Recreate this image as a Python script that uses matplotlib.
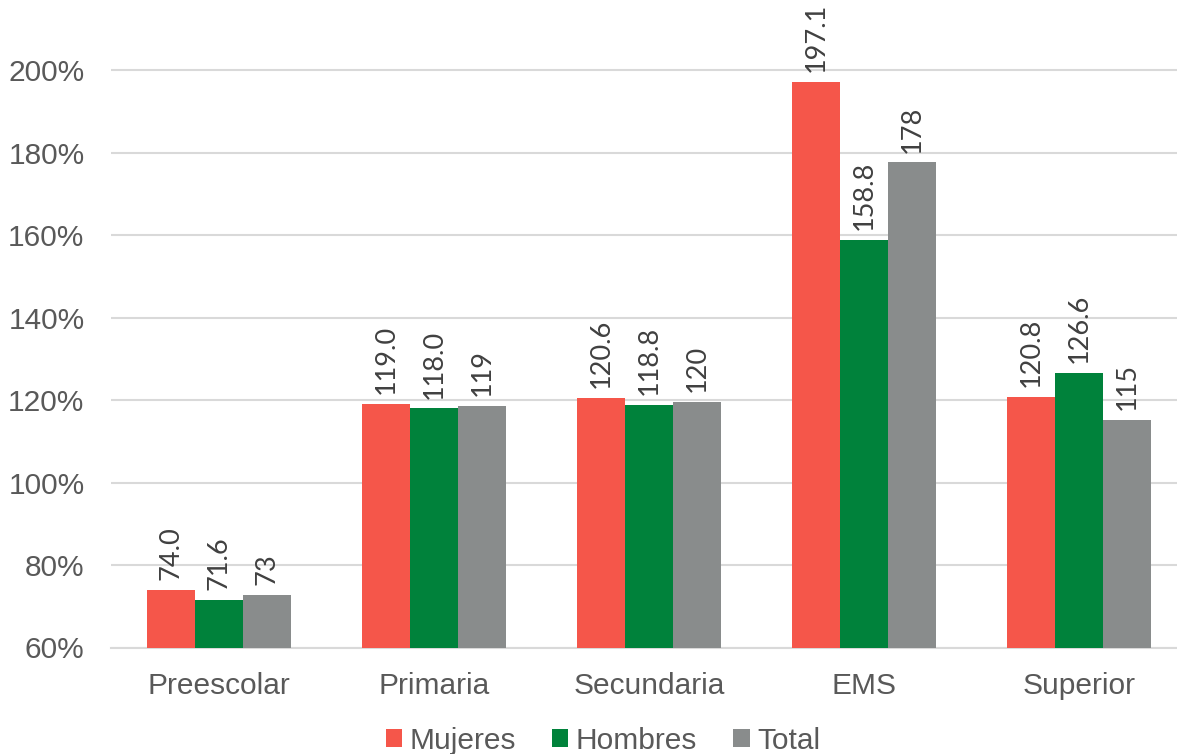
import matplotlib.pyplot as plt
import numpy as np

# ==================================
# 数据
# ==================================
niveles = ["Preescolar", "Primaria", "Secundaria", "EMS", "Superior"]

mujeres = [74.0, 119.0, 120.6, 197.1, 120.8]
hombres = [71.6, 118.0, 118.8, 158.8, 126.6]
total = [72.8, 118.6, 119.6, 177.6, 115.2]

series = ["Mujeres", "Hombres", "Total"]
colores = ["#F5564A", "#00823B", "#898C8C"]
formatos = ["{:.1f}", "{:.1f}", "{:.0f}"]

yticks = [60, 80, 100, 120, 140, 160, 180, 200]

# ==================================
# 图
# ==================================
fig = plt.figure(figsize=(11.77, 7.54), dpi=100)
ax = fig.add_axes([111 / 1177, 1 - 647.5 / 754, 1 - 111 / 1177, 647.5 / 754])

x = np.arange(len(niveles))
ancho = 0.223

for i, (nombre, valores) in enumerate(zip(series, [mujeres, hombres, total])):
    pos = x + (i - 1) * ancho
    ax.bar(pos, np.array(valores) - 60, bottom=60, width=ancho,
           color=colores[i], label=nombre, zorder=3)
    for px, v in zip(pos, valores):
        ax.annotate(formatos[i].format(v), (px, v),
                    xytext=(0, 7), textcoords="offset points",
                    rotation=90, ha="center", va="bottom",
                    fontsize=19.5, color="#404040", family="Lato")

ax.set_xlim(-0.502, 4.456)
ax.set_ylim(60, 217)
ax.set_yticks(yticks)
ax.set_yticklabels([f"{t}%" for t in yticks])
ax.set_xticks(x)
ax.set_xticklabels(niveles)

ax.grid(axis="y", color="#D9D9D9", linewidth=1.5, zorder=0)
for lado in ["top", "right", "left"]:
    ax.spines[lado].set_visible(False)
ax.spines["bottom"].set_color("#D9D9D9")
ax.spines["bottom"].set_linewidth(1.5)

ax.tick_params(axis="both", length=0, labelsize=21.5, labelcolor="#595959")
ax.tick_params(axis="x", pad=18)
ax.tick_params(axis="y", pad=19)
for t in ax.get_xticklabels() + ax.get_yticklabels():
    t.set_family("Liberation Sans")

fig.legend(loc="center", bbox_to_anchor=(603 / 1177, 1 - 741 / 754),
           ncol=3, frameon=False, handlelength=0.55, handleheight=0.55,
           handletextpad=0.25, columnspacing=1.2,
           prop={"family": "Liberation Sans", "size": 21.5},
           labelcolor="#595959")

fig.savefig("out.png", dpi=100)
